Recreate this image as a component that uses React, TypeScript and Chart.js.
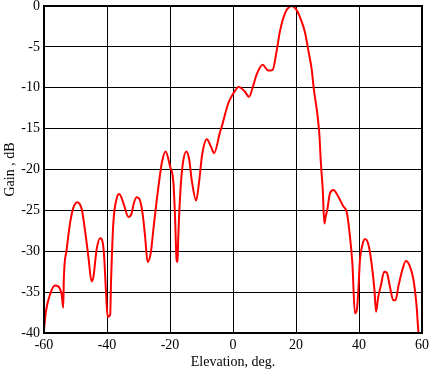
import React, { useEffect, useRef } from "react";
import { Chart, registerables } from "chart.js";

Chart.register(...registerables);

const elevation = [
  -60.0, -59.4, -58.1, -56.5, -55.5, -54.4, -53.9, -53.7, -52.8, -51.7, -50.7, -49.4, -48.0, -47.0,
  -45.9, -44.9, -44.3, -43.3, -42.2, -41.7, -41.0, -40.3, -39.8, -39.0, -38.7, -38.0, -36.9, -36.1,
  -34.8, -33.2, -32.2, -31.6, -30.6, -29.7, -28.7, -27.9, -27.1, -26.1, -25.3, -24.2, -23.4, -22.5,
  -21.4, -20.0, -18.9, -18.4, -17.9, -17.6, -17.4, -16.8, -16.0, -14.8, -13.9, -13.1, -11.7, -10.7,
  -9.8, -8.3, -7.0, -6.0, -4.1, -3.6, -1.5, 0.1, 1.8, 3.6, 5.1, 6.3, 7.5, 9.4, 11.2, 12.6, 13.9,
  14.9, 16.5, 18.6, 20.2, 21.5, 22.9, 23.9, 25.0, 25.7, 26.6, 27.4, 27.9, 28.5, 29.0, 29.4, 29.9,
  30.8, 31.9, 33.4, 35.0, 36.1, 36.9, 37.9, 38.7, 39.3, 39.8, 40.3, 41.1, 41.9, 43.0, 44.0, 44.9,
  45.4, 46.1, 47.0, 48.0, 48.8, 49.8, 50.9, 51.6, 52.5, 53.6, 54.9, 56.0, 57.3, 58.3, 58.8, 59.0,
];

const gain = [
  -39.6, -37.4, -35.3, -34.2, -34.3, -35.3, -36.9, -33.3, -29.8, -26.5, -24.7, -24.0, -24.9, -27.4,
  -30.7, -33.7, -33.1, -29.8, -28.4, -28.5, -30.1, -35.1, -38.0, -37.8, -33.5, -26.6, -23.5, -23.0,
  -24.1, -25.8, -25.4, -24.3, -23.4, -23.6, -25.4, -28.2, -31.3, -30.2, -27.4, -23.7, -21.3, -19.0,
  -17.8, -19.6, -21.7, -25.8, -31.1, -31.3, -28.6, -23.3, -19.5, -17.8, -18.8, -21.3, -23.8, -21.3,
  -18.2, -16.3, -17.2, -18.0, -15.4, -14.8, -11.9, -10.7, -9.9, -10.4, -11.1, -9.9, -8.4, -7.2, -7.9,
  -7.8, -5.4, -3.1, -0.9, 0.0, -0.5, -1.6, -3.3, -5.4, -7.8, -10.3, -12.7, -15.6, -19.2, -22.5, -26.6,
  -25.8, -25.0, -22.9, -22.5, -23.3, -24.5, -25.2, -27.4, -31.5, -37.6, -37.2, -34.7, -31.1, -29.2,
  -28.5, -29.2, -31.5, -34.7, -37.4, -35.6, -34.1, -32.5, -32.6, -34.3, -36.0, -36.0, -34.3, -32.5,
  -31.2, -31.7, -33.5, -36.8, -39.6, -40.5,
];

const xTitle = "Elevation, deg.";
const yTitle = "Gain , dB";

const FONT = "'Liberation Serif', 'Times New Roman', serif";

const framePlugin = {
  id: "frame",
  afterDraw(chart: any) {
    const { ctx, chartArea } = chart;
    ctx.save();
    ctx.strokeStyle = "#000";
    ctx.lineWidth = 2;
    ctx.strokeRect(chartArea.left, chartArea.top, chartArea.right - chartArea.left, chartArea.bottom - chartArea.top);
    ctx.restore();
  },
};

export default function App() {
  const ref = useRef<HTMLCanvasElement | null>(null);
  useEffect(() => {
    if (!ref.current) return;
    const chart = new Chart(ref.current, {
      type: "line",
      data: {
        datasets: [
          {
            data: elevation.map((x, i) => ({ x, y: gain[i] })),
            borderColor: "#ff0000",
            borderWidth: 2,
            pointRadius: 0,
            cubicInterpolationMode: "monotone",
            fill: false,
          },
        ],
      },
      options: {
        responsive: false,
        animation: false,
        layout: { padding: { top: 6, right: 11, left: 2, bottom: 0 } },
        plugins: { legend: { display: false }, tooltip: { enabled: false } },
        scales: {
          x: {
            type: "linear",
            min: -60,
            max: 60,
            afterFit: (s: any) => { s.height = 38; s.paddingLeft = 0; s.paddingRight = 0; },
            ticks: { stepSize: 20, color: "#000", font: { family: FONT, size: 14 }, padding: 4, maxRotation: 0 },
            grid: { color: "#000", lineWidth: 1, drawTicks: false },
            border: { display: false },
            title: { display: true, text: xTitle, color: "#000", font: { family: FONT, size: 14 }, padding: { top: 0, bottom: 0 } },
          },
          y: {
            type: "linear",
            min: -40,
            max: 0,
            afterFit: (s: any) => { s.width = 42; s.paddingTop = 0; s.paddingBottom = 0; },
            ticks: { stepSize: 5, color: "#000", font: { family: FONT, size: 14 }, padding: 4 },
            grid: { color: "#000", lineWidth: 1, drawTicks: false },
            border: { display: false },
            title: { display: true, text: yTitle, color: "#000", font: { family: FONT, size: 14 }, padding: { top: 0, bottom: 0 } },
          },
        },
      },
      plugins: [framePlugin],
    });
    return () => chart.destroy();
  }, []);
  return (
    <div style={{ position: "absolute", left: 0, top: 0, width: 433, height: 371, background: "#fff" }}>
      <canvas ref={ref} width={433} height={371} />
    </div>
  );
}
